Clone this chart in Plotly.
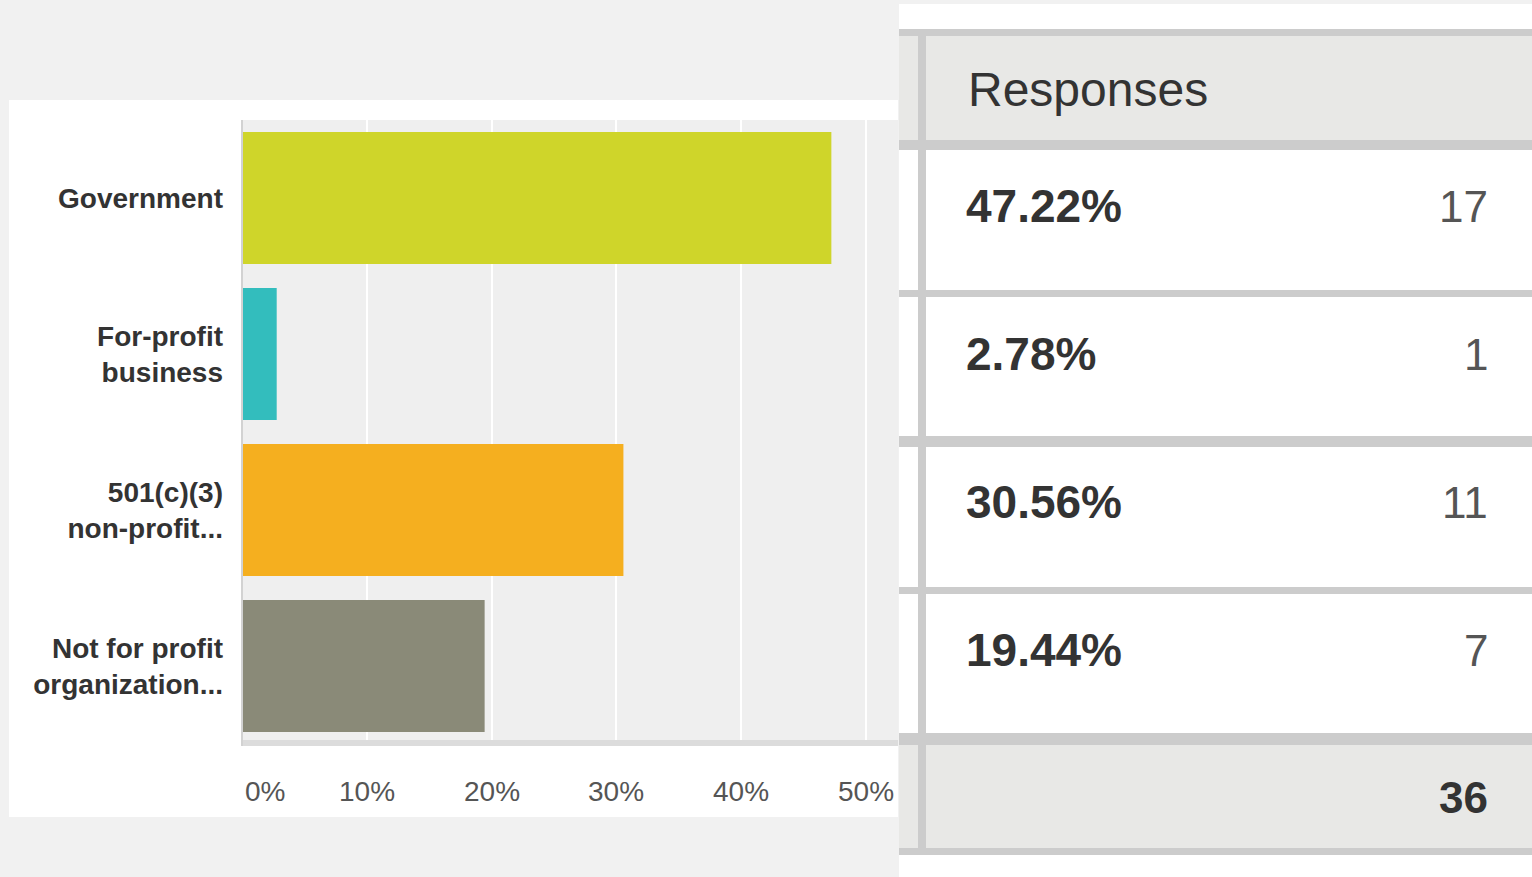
import plotly.graph_objects as go

# ---------------- data ----------------
categories = ["Government", "For-profit<br>business", "501(c)(3)<br>non-profit...",
              "Not for profit<br>organization..."]
percents = [47.22, 2.78, 30.56, 19.44]
counts = [17, 1, 11, 7]
total = 36
bar_colors = ["#cfd52a", "#33bdbd", "#f5af1f", "#8a8a78"]
x_ticks = [0, 10, 20, 30, 40, 50]
x_tick_labels = ["0%", "10%", "20%", "30%", "40%", "50%"]
header_label = "Responses"

# ---------------- layout helpers ----------------
W, H = 1532, 877


def px(x):
    return x / W


def py(y):
    return 1 - y / H


FONT = "Liberation Sans, Arial, sans-serif"

fig = go.Figure(
    go.Bar(
        y=categories,
        x=percents,
        orientation="h",
        marker=dict(color=bar_colors, line=dict(width=0)),
        hoverinfo="skip",
    )
)

shapes = []


def rect(x0, y0, x1, y1, color, layer="below"):
    shapes.append(dict(type="rect", xref="paper", yref="paper",
                       x0=px(x0), x1=px(x1), y0=py(y1), y1=py(y0),
                       fillcolor=color, line=dict(width=0), layer=layer))


# chart panel + plot background
rect(9, 100, 898, 817, "#ffffff")
rect(242, 120, 898, 744, "#efefef")
# table
rect(899, 4, 1532, 877, "#ffffff")
rect(899, 36, 1532, 140, "#e8e8e6")
rect(899, 745, 1532, 848, "#e8e8e6")
for y0, y1 in [(29, 36), (140, 150), (290, 297), (436, 447), (587, 594), (733, 745), (848, 855)]:
    rect(899, y0, 1532, y1, "#cccccc")
rect(918, 29, 926, 855, "#cccccc")
# axis lines
rect(242, 740, 898, 746, "#dcdcdc", layer="above")
rect(241, 120, 243, 746, "#d2d2d2", layer="above")

annotations = []
# x tick labels
for v, lab in zip(x_ticks, x_tick_labels):
    annotations.append(dict(x=v, xref="x", y=py(791), yref="paper", text=lab,
                            showarrow=False, xanchor="center", yanchor="middle",
                            xshift=23 if v == 0 else 0,
                            font=dict(family=FONT, size=28, color="#555555")))

# table text
annotations.append(dict(x=px(966), y=py(90), xref="paper", yref="paper", text=header_label,
                        showarrow=False, xanchor="left", yanchor="middle",
                        font=dict(family=FONT, size=48, color="#333333")))
row_text_y = [206, 354, 502, 650]
for p, c, ty in zip(percents, counts, row_text_y):
    annotations.append(dict(x=px(964), y=py(ty), xref="paper", yref="paper",
                            text=f"{p:.2f}%", showarrow=False, xanchor="left", yanchor="middle",
                            font=dict(family=FONT, size=46, color="#333333", weight="bold")))
    annotations.append(dict(x=px(1490), y=py(ty), xref="paper", yref="paper",
                            text=str(c), showarrow=False, xanchor="right", yanchor="middle",
                            font=dict(family=FONT, size=44, color="#555555")))
annotations.append(dict(x=px(1490), y=py(797), xref="paper", yref="paper",
                        text=str(total), showarrow=False, xanchor="right", yanchor="middle",
                        font=dict(family=FONT, size=44, color="#333333", weight="bold")))

fig.update_layout(
    width=W, height=H,
    margin=dict(l=0, r=0, t=0, b=0),
    paper_bgcolor="#f1f1f1",
    plot_bgcolor="rgba(0,0,0,0)",
    bargap=0.154,
    showlegend=False,
    shapes=shapes,
    annotations=annotations,
    xaxis=dict(domain=[px(242), px(898)], range=[0, 52.56], tickvals=x_ticks,
               showticklabels=False, showgrid=True, gridcolor="#ffffff", gridwidth=2,
               zeroline=False, showline=False, ticks="", fixedrange=True),
    yaxis=dict(domain=[py(744), py(120)], range=[3.5, -0.5], showgrid=False,
               zeroline=False, showline=False, ticks="", ticklabelstandoff=18,
               tickfont=dict(family=FONT, size=28, color="#333333", weight="bold"),
               fixedrange=True),
)

fig.write_html(
    "out.html",
    config={"displayModeBar": False},
    post_script="document.body.style.margin='0';document.body.style.overflow='hidden';",
)
